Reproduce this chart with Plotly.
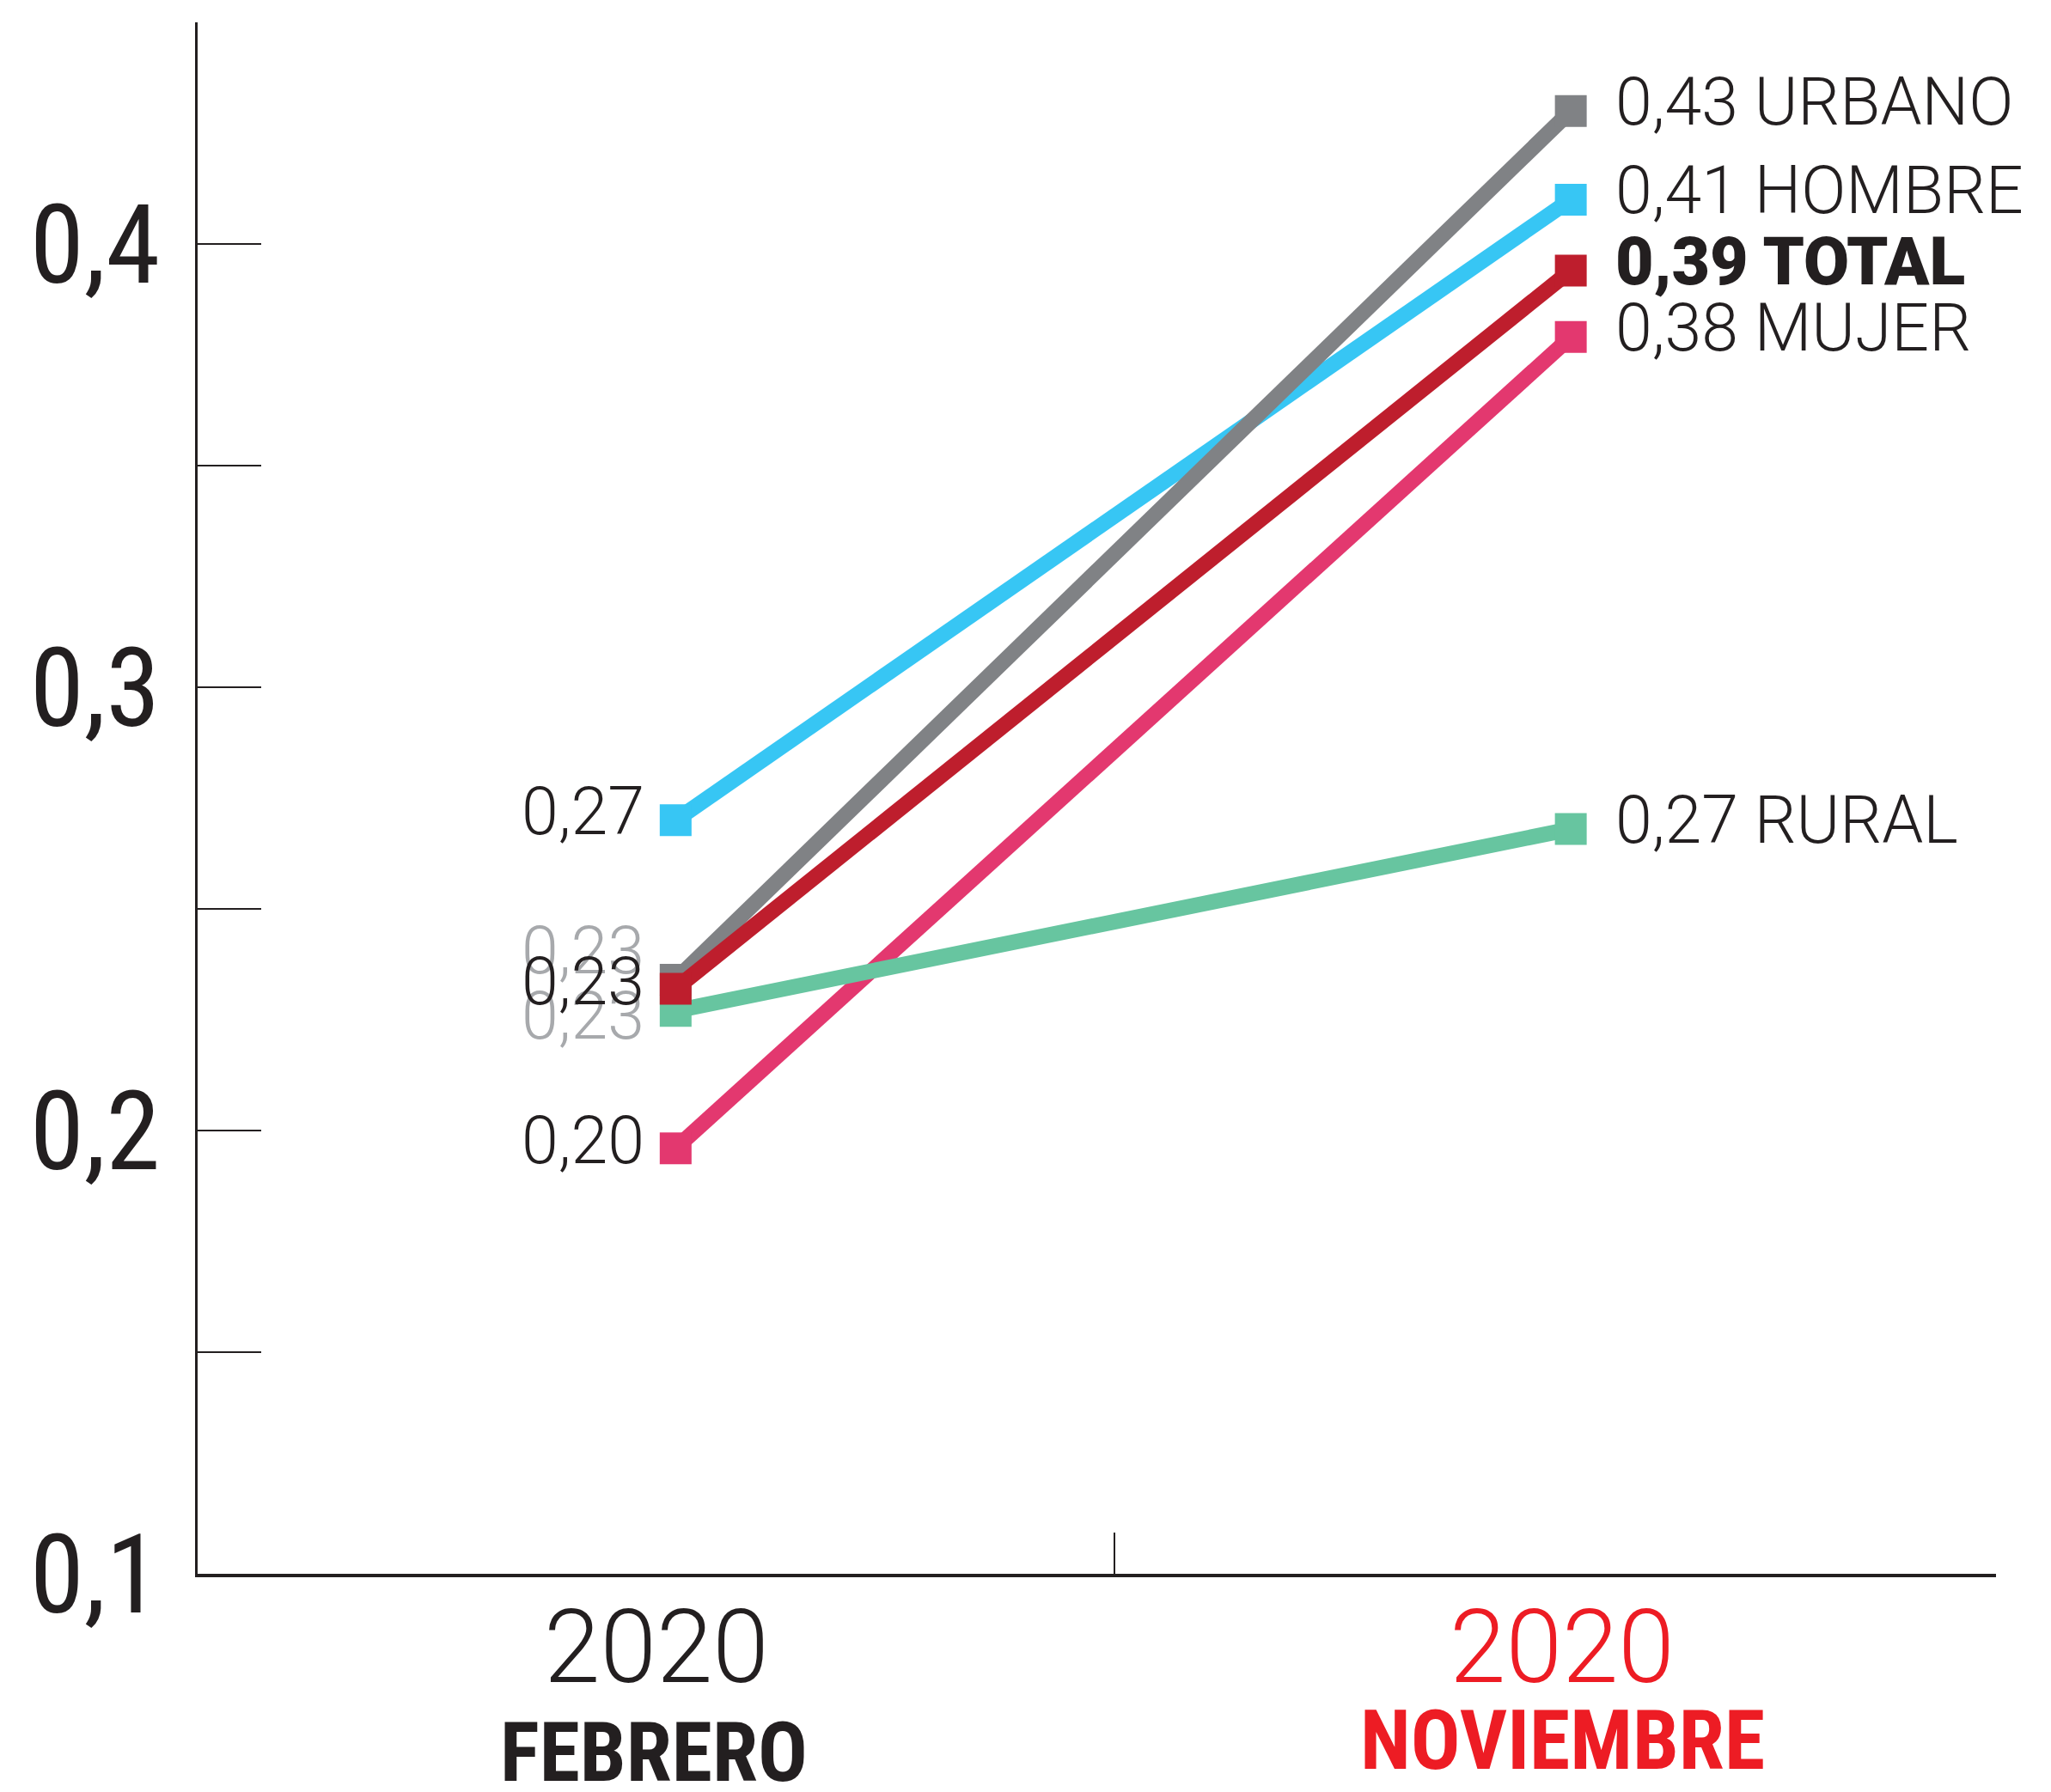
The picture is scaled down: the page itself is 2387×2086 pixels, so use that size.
import plotly.graph_objects as go

# data
months = ["FEBRERO", "NOVIEMBRE"]
years = ["2020", "2020"]
series_names = ["HOMBRE", "MUJER", "URBANO", "RURAL", "TOTAL"]
hombre = [0.270, 0.410]
mujer = [0.196, 0.379]
urbano = [0.234, 0.430]
rural = [0.227, 0.268]
total = [0.232, 0.394]

y_tick_vals = [0.1, 0.15, 0.2, 0.25, 0.3, 0.35, 0.4, 0.45]
y_tick_text = ["0,1", "", "0,2", "", "0,3", "", "0,4", ""]

values = {"HOMBRE": hombre, "MUJER": mujer, "URBANO": urbano, "RURAL": rural, "TOTAL": total}

# styling (draw order = list order)
colors = {"HOMBRE": "#37c6f4", "MUJER": "#e3386f", "URBANO": "#808285",
          "RURAL": "#67c5a0", "TOTAL": "#be1e2d"}
left_color = {"HOMBRE": "#231f20", "MUJER": "#231f20", "URBANO": "#a7a9ac",
              "RURAL": "#a7a9ac", "TOTAL": "#231f20"}
left_shift = {"HOMBRE": 10, "MUJER": 9, "URBANO": 34, "RURAL": -6, "TOTAL": 8}
right_shift = 10

DARK = "#231f20"
NARROW = "'Roboto Condensed', 'DejaVu Sans Condensed', Roboto, sans-serif"
LIGHT = "Roboto, sans-serif"

x_pos = list(range(len(months)))
x_range = [-0.534, 1.475]


def fmt(v):
    return f"{v:.2f}".replace(".", ",")


fig = go.Figure()
for name in series_names:
    fig.add_trace(go.Scatter(
        x=x_pos, y=values[name], mode="lines+markers", name=name,
        line=dict(color=colors[name], width=18),
        marker=dict(symbol="square", size=37, color=colors[name], line=dict(width=0)),
        showlegend=False, cliponaxis=False,
    ))

annotations = []
for name in series_names:
    v = values[name]
    # february value labels
    annotations.append(dict(
        x=x_pos[0], y=v[0], xref="x", yref="y", text=fmt(v[0]),
        xanchor="right", yanchor="middle", xshift=-34, yshift=left_shift[name],
        showarrow=False, font=dict(family=LIGHT, size=77, color=left_color[name], weight=300),
    ))
    # november value + name labels
    bold = name == "TOTAL"
    annotations.append(dict(
        x=x_pos[1], y=v[1], xref="x", yref="y", text=f"{fmt(v[1])} {name}",
        xanchor="left", yanchor="middle", xshift=50, yshift=right_shift,
        showarrow=False,
        font=dict(family=LIGHT, size=77, color=DARK, weight=900 if bold else 300),
    ))

month_colors = [DARK, "#ed1c24"]
month_shift = [-208, -194]
for i, m in enumerate(months):
    annotations.append(dict(
        x=x_pos[i], y=0, xref="x", yref="paper", text=years[i],
        xanchor="center", yanchor="middle", xshift=-22 if i == 0 else -10, yshift=-86,
        showarrow=False,
        font=dict(family=LIGHT, size=118, color=month_colors[i], weight=300),
    ))
    annotations.append(dict(
        x=x_pos[i], y=0, xref="x", yref="paper", text=m,
        xanchor="center", yanchor="middle", xshift=-25 if i == 0 else -10, yshift=month_shift[i],
        showarrow=False, font=dict(family=NARROW, size=96, color=month_colors[i], weight=700),
    ))

# page body has an 8px margin, so the figure is drawn 8px in from the top-left
fig.update_layout(
    width=2371, height=2070,
    margin=dict(l=222, r=56, t=18, b=246),
    paper_bgcolor="white", plot_bgcolor="white",
    annotations=annotations,
)
fig.update_yaxes(
    range=[0.1, 0.45], tickvals=y_tick_vals, ticktext=y_tick_text,
    ticks="inside", ticklen=74, tickwidth=2, tickcolor=DARK,
    showline=True, linewidth=3, linecolor=DARK, showgrid=False, zeroline=False,
    tickfont=dict(family=NARROW, size=128, color=DARK), ticklabelstandoff=15,
)
fig.update_xaxes(
    range=x_range, tickvals=[0.49, x_range[1]], showticklabels=False,
    ticks="inside", ticklen=48, tickwidth=2, tickcolor=DARK,
    showline=True, linewidth=4, linecolor=DARK, showgrid=False, zeroline=False,
)

fig.write_html("out.html")
